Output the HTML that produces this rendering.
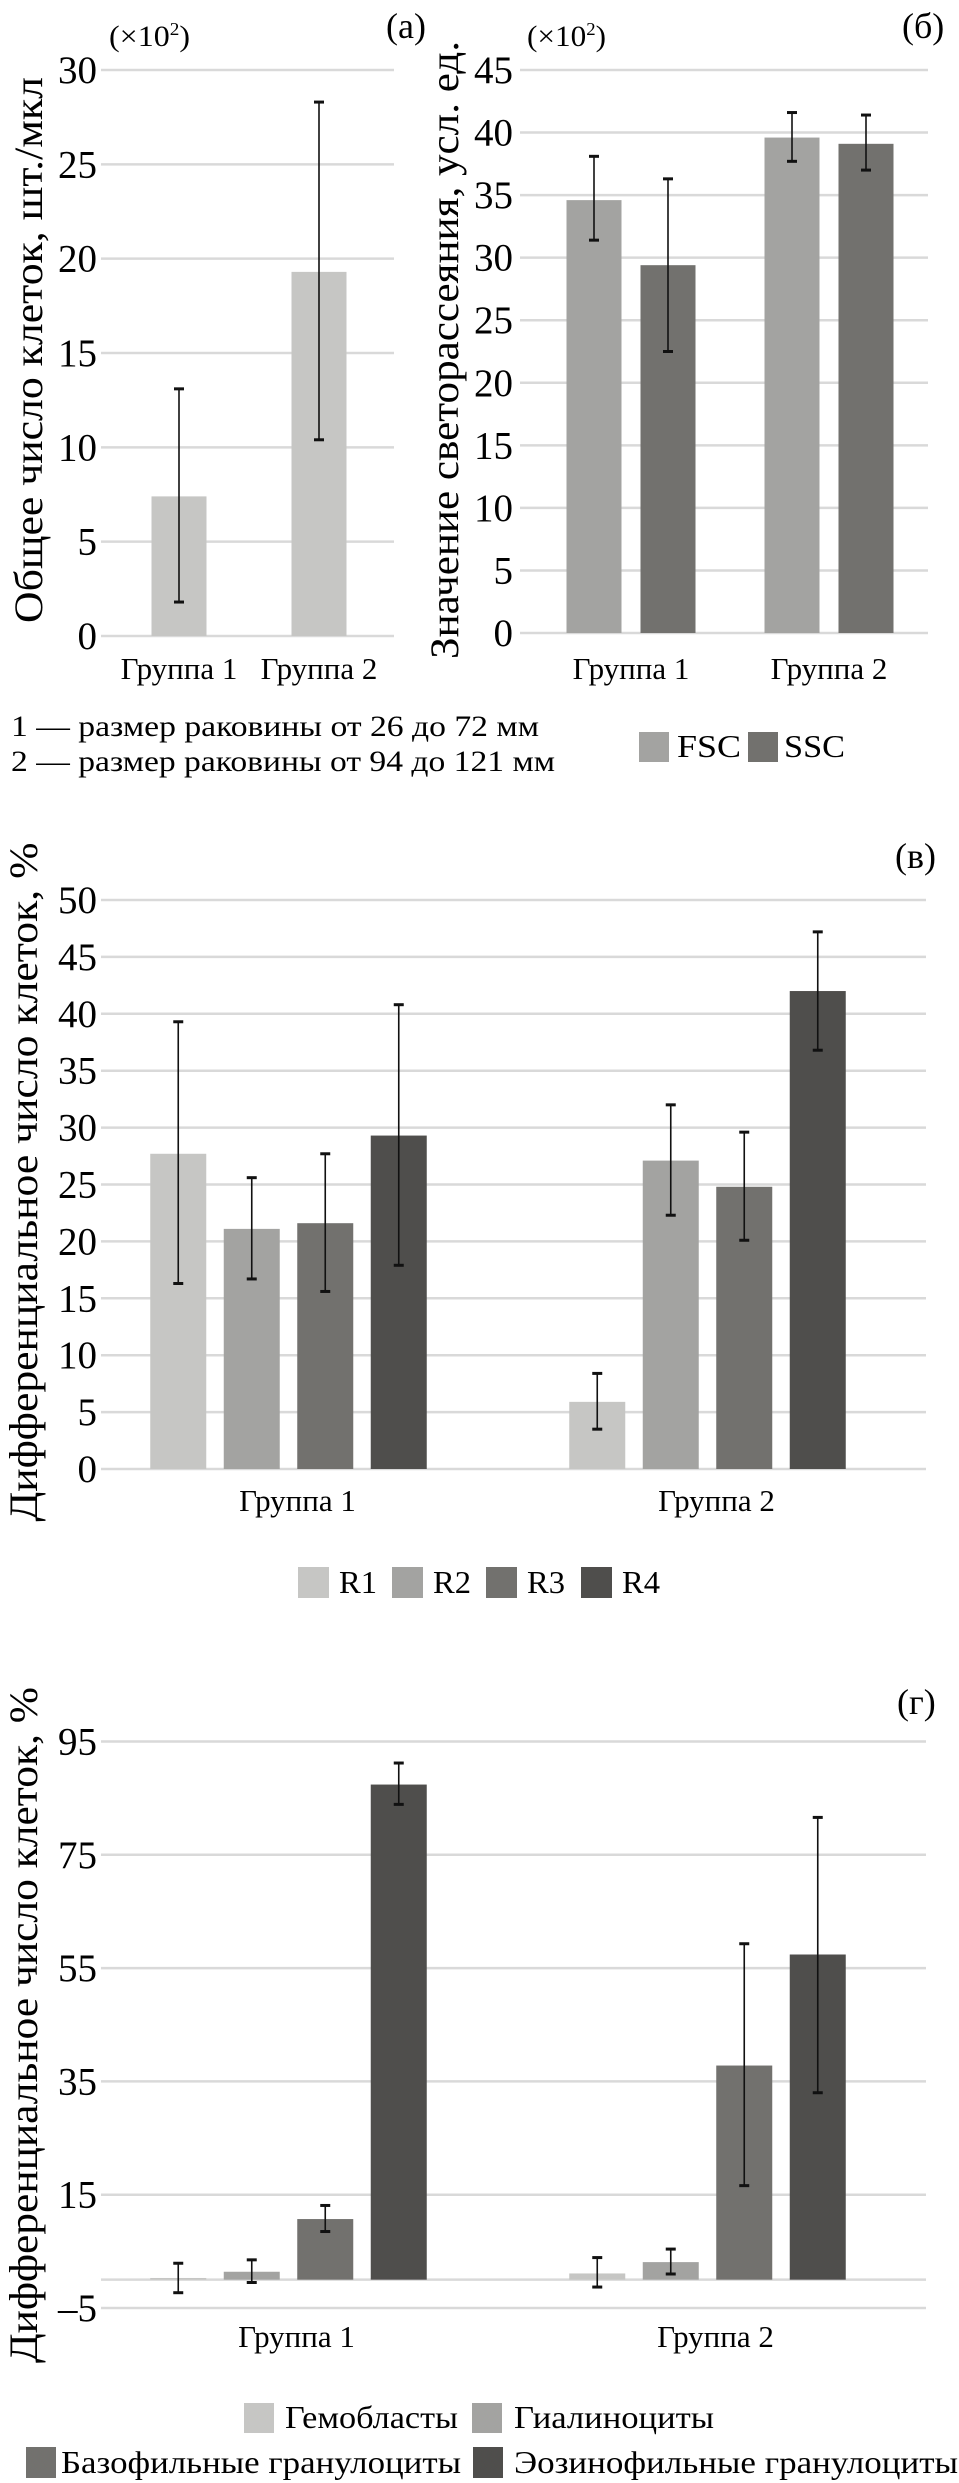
<!DOCTYPE html>
<html><head><meta charset="utf-8">
<style>
html,body{margin:0;padding:0;background:#fff;}
svg{display:block;font-family:"Liberation Serif","Noto Serif CJK SC",serif;}
</style></head>
<body>
<svg id="fig" width="959" height="2483" viewBox="0 0 959 2483" xmlns="http://www.w3.org/2000/svg">
<text x="386" y="38" font-size="36">(а)</text>
<text x="902" y="38" font-size="36">(б)</text>
<text x="895" y="868" font-size="36">(в)</text>
<text x="897" y="1714" font-size="36">(г)</text>
<text x="109" y="46" font-size="30" textLength="81" lengthAdjust="spacingAndGlyphs">(×10<tspan font-size="18" dy="-11">2</tspan><tspan dy="11">)</tspan></text>
<text x="527" y="46" font-size="30" textLength="79" lengthAdjust="spacingAndGlyphs">(×10<tspan font-size="18" dy="-11">2</tspan><tspan dy="11">)</tspan></text>
<text transform="translate(42,350) rotate(-90)" text-anchor="middle" font-size="40" textLength="546" lengthAdjust="spacingAndGlyphs">Общее число клеток, шт./мкл</text>
<text transform="translate(458,350) rotate(-90)" text-anchor="middle" font-size="40" textLength="618" lengthAdjust="spacingAndGlyphs">Значение светорассеяния, усл. ед.</text>
<text transform="translate(37,1182) rotate(-90)" text-anchor="middle" font-size="40" textLength="679" lengthAdjust="spacingAndGlyphs">Дифференциальное число клеток, %</text>
<text transform="translate(37,2025) rotate(-90)" text-anchor="middle" font-size="40" textLength="676" lengthAdjust="spacingAndGlyphs">Дифференциальное число клеток, %</text>
<text x="11" y="736" font-size="30" textLength="528" lengthAdjust="spacingAndGlyphs">1 — размер раковины от 26 до 72 мм</text>
<text x="11" y="771" font-size="30" textLength="544" lengthAdjust="spacingAndGlyphs">2 — размер раковины от 94 до 121 мм</text>
<g id="charts"></g>
</svg>
<script>
// Panel (a)
const aCategories = ["Группа 1", "Группа 2"];
const aValues = [7.4, 19.3];
const aErrLow = [1.8, 10.4];
const aErrHigh = [13.1, 28.3];
const aTicks = [0, 5, 10, 15, 20, 25, 30];
// Panel (б)
const bCategories = ["Группа 1", "Группа 2"];
const bSeries = ["FSC", "SSC"];
const bFSC = [34.6, 39.6];
const bSSC = [29.4, 39.1];
const bFSCLow = [31.4, 37.7];
const bFSCHigh = [38.1, 41.6];
const bSSCLow = [22.5, 37.0];
const bSSCHigh = [36.3, 41.4];
const bTicks = [0, 5, 10, 15, 20, 25, 30, 35, 40, 45];
// Panel (в)
const vCategories = ["Группа 1", "Группа 2"];
const vSeries = ["R1", "R2", "R3", "R4"];
const vR1 = [27.7, 5.9];
const vR2 = [21.1, 27.1];
const vR3 = [21.6, 24.8];
const vR4 = [29.3, 42.0];
const vLow = [[16.3, 3.5], [16.7, 22.3], [15.6, 20.1], [17.9, 36.8]];
const vHigh = [[39.3, 8.4], [25.6, 32.0], [27.7, 29.6], [40.8, 47.2]];
const vTicks = [0, 5, 10, 15, 20, 25, 30, 35, 40, 45, 50];
// Panel (г)
const gCategories = ["Группа 1", "Группа 2"];
const gSeries = ["Гемобласты", "Гиалиноциты", "Базофильные гранулоциты", "Эозинофильные гранулоциты"];
const gHemo = [0.3, 1.1];
const gHyal = [1.4, 3.1];
const gBaso = [10.7, 37.8];
const gEos = [87.4, 57.4];
const gLow = [[-2.3, -1.3], [-0.5, 1.0], [8.5, 16.6], [83.9, 33.0]];
const gHigh = [[2.9, 3.9], [3.5, 5.4], [13.1, 59.3], [91.2, 81.6]];
const gTicks = [-5, 15, 35, 55, 75, 95];

const NS = "http://www.w3.org/2000/svg";
const root = document.getElementById("charts");
const COLORS = ["#c6c6c4", "#a3a3a1", "#72716e", "#4f4e4c"];
function mk(tag, attrs, parent) {
  const e = document.createElementNS(NS, tag);
  for (const k in attrs) e.setAttribute(k, attrs[k]);
  (parent || root).appendChild(e);
  return e;
}
function scaleY(vmin, vmax, yBottom, yTop) {
  return v => yBottom - (v - vmin) / (vmax - vmin) * (yBottom - yTop);
}
function grid(ticks, y, x0, x1, labelX, prefix) {
  ticks.forEach(t => {
    const l = mk("line", {x1: x0, x2: x1, y1: y(t), y2: y(t), stroke: "#d9d9d9", "stroke-width": 2.5});
    
    
    const tx = mk("text", {x: labelX, y: y(t) + 13, "text-anchor": "end", "font-size": 39});
    
    
    tx.textContent = t < 0 ? "–" + Math.abs(t) : String(t);
  });
}
function bar(x, w, v, y, base, color, prefix) {
  const y1 = y(v), y0 = y(base);
  const r = mk("rect", {x: x, y: Math.min(y0, y1), width: w, height: Math.abs(y0 - y1), fill: color});
  
  
}
function err(cx, lo, hi, y, prefix) {
  const g = mk("g", {stroke: "#111"});
  
  
  mk("line", {x1: cx, x2: cx, y1: y(lo), y2: y(hi), "stroke-width": 1.6}, g);
  mk("line", {x1: cx - 5, x2: cx + 5, y1: y(lo), y2: y(lo), "stroke-width": 3}, g);
  mk("line", {x1: cx - 5, x2: cx + 5, y1: y(hi), y2: y(hi), "stroke-width": 3}, g);
}
function catLabel(x, yb, txt, prefix) {
  const t = mk("text", {x: x, y: yb, "text-anchor": "middle", "font-size": 31});
  
  
  t.textContent = txt;
}
function legend(x, y, w, h, color, tx, txt, len, prefix) {
  const r = mk("rect", {x: x, y: y, width: w, height: h, fill: color});
  
  
  const t = mk("text", {x: tx, y: y + h - 5, "font-size": 32, textLength: len, lengthAdjust: "spacingAndGlyphs"});
  
  
  t.textContent = txt;
}

(function () {
  const y = scaleY(0, 30, 636, 70);
  grid(aTicks, y, 101, 394, 97, "a");
  const centers = [179, 319], w = 55;
  aValues.forEach((v, i) => {
    bar(centers[i] - w / 2, w, v, y, 0, COLORS[0], "a-bar-" + (i + 1));
    err(centers[i], aErrLow[i], aErrHigh[i], y, "a-bar-" + (i + 1));
    catLabel(centers[i], 679, aCategories[i], "a-x-label-" + (i + 1));
  });
})();

(function () {
  const y = scaleY(0, 45, 633, 70);
  grid(bTicks, y, 520, 928, 513, "b");
  const centers = [631, 829], w = 55, off = [-37, 37];
  const vals = [bFSC, bSSC], lo = [bFSCLow, bSSCLow], hi = [bFSCHigh, bSSCHigh];
  bCategories.forEach((c, i) => {
    vals.forEach((s, j) => {
      const cx = centers[i] + off[j];
      bar(cx - w / 2, w, s[i], y, 0, COLORS[j + 1], "b-bar-" + bSeries[j].toLowerCase() + "-" + (i + 1));
      err(cx, lo[j][i], hi[j][i], y, "b-" + bSeries[j].toLowerCase() + "-" + (i + 1));
    });
    catLabel(centers[i], 679, c, "b-x-label-" + (i + 1));
  });
  legend(639, 732, 30, 30, COLORS[1], 677, bSeries[0], 64, "b-legend-fsc");
  legend(748, 732, 30, 30, COLORS[2], 784, bSeries[1], 61, "b-legend-ssc");
})();

(function () {
  const y = scaleY(0, 50, 1469, 900);
  grid(vTicks, y, 101, 926, 97, "v");
  const centers = [288.5, 707.5], w = 56, step = 73.5;
  const series = [vR1, vR2, vR3, vR4];
  vCategories.forEach((c, i) => {
    series.forEach((s, j) => {
      const cx = centers[i] + (j - 1.5) * step;
      bar(cx - w / 2, w, s[i], y, 0, COLORS[j], "v-bar-" + vSeries[j].toLowerCase() + "-" + (i + 1));
      err(cx, vLow[j][i], vHigh[j][i], y, "v-" + vSeries[j].toLowerCase() + "-" + (i + 1));
    });
    catLabel(centers[i] + 9, 1511, c, "v-x-label-" + (i + 1));
  });
  const sx = [298, 392, 486, 581];
  vSeries.forEach((s, j) => legend(sx[j], 1567, 31, 31, COLORS[j], sx[j] + 41, s, 38, "v-legend-" + s.toLowerCase()));
})();

(function () {
  const y = scaleY(-5, 95, 2308, 1741.5);
  grid(gTicks, y, 101, 926, 97, "g");
  const z = mk("line", {x1: 101, x2: 926, y1: y(0), y2: y(0), stroke: "#d9d9d9", "stroke-width": 2.5});
  
  
  const centers = [288.5, 707.5], w = 56, step = 73.5;
  const series = [gHemo, gHyal, gBaso, gEos];
  gCategories.forEach((c, i) => {
    series.forEach((s, j) => {
      const cx = centers[i] + (j - 1.5) * step;
      bar(cx - w / 2, w, s[i], y, 0, COLORS[j], "g-bar-" + (j + 1) + "-" + (i + 1));
      err(cx, gLow[j][i], gHigh[j][i], y, "g-series-" + (j + 1) + "-" + (i + 1));
    });
    catLabel(centers[i] + 8, 2347, c, "g-x-label-" + (i + 1));
  });
  legend(244, 2403, 30, 30, COLORS[0], 285, gSeries[0], 173, "g-legend-hemoblasts");
  legend(472, 2403, 30, 30, COLORS[1], 514, gSeries[1], 200, "g-legend-hyalinocytes");
  legend(26, 2447, 30, 31, COLORS[2], 61, gSeries[2], 400, "g-legend-basophils");
  legend(473, 2447, 30, 31, COLORS[3], 514, gSeries[3], 444, "g-legend-eosinophils");
})();
</script>
</body></html>
